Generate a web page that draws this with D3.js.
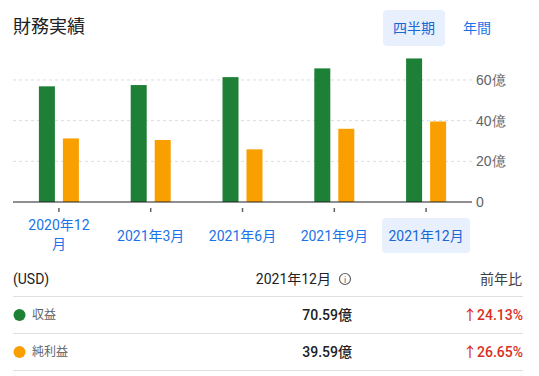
<!DOCTYPE html>
<html>
<head>
<meta charset="utf-8">
<script src="https://cdn.jsdelivr.net/npm/d3@7"></script>
<style>
  body { margin: 0; background: #fff; }
  svg { font-family: Roboto, "Noto Sans CJK JP", sans-serif; display: block; }
</style>
</head>
<body>
<svg id="chart" width="539" height="376"></svg>
<script>
// data
const categories = ["2020年12月", "2021年3月", "2021年6月", "2021年9月", "2021年12月"];
const labelLines = [["2020年12", "月"], ["2021年3月"], ["2021年6月"], ["2021年9月"], ["2021年12月"]];
const seriesNames = ["収益", "純利益"];
const revenue = [56.88, 57.5, 61.4, 65.7, 70.59];
const netIncome = [31.26, 30.5, 25.9, 36.0, 39.59];
const yTicks = [0, 20, 40, 60];
const tableValues = ["70.59億", "39.59億"];
const tableChange = ["24.13%", "26.65%"];
const colors = ["#1e8037", "#f9a000"];

const svg = d3.select("#chart");

// header
svg.append("text").attr("x", 13).attr("y", 33).attr("font-size", 18).attr("fill", "#202124").text("財務実績");
svg.append("rect").attr("x", 383).attr("y", 10).attr("width", 62).attr("height", 36).attr("rx", 4).attr("fill", "#e8f0fe");
svg.append("text").attr("x", 414).attr("y", 33).attr("text-anchor", "middle").attr("font-size", 14).attr("fill", "#1967d2").text("四半期");
svg.append("text").attr("x", 477).attr("y", 33).attr("text-anchor", "middle").attr("font-size", 14).attr("fill", "#1a73e8").text("年間");

// scales
const x = d3.scaleBand().domain(categories).range([13, 472]);
const xs = d3.scaleBand().domain(seriesNames).range([-20, 20]).paddingInner(1/3);
const y = d3.scaleLinear().domain([0, 80]).range([202, 39.3]);

// grid
svg.append("g").selectAll("line").data(yTicks.filter(d => d > 0)).enter().append("line")
  .attr("x1", 13).attr("x2", 472).attr("y1", d => y(d)).attr("y2", d => y(d))
  .attr("stroke", "#dadce0").attr("stroke-dasharray", "3,3");

// y axis labels
const yAxis = svg.append("g").attr("transform", "translate(472,0)")
  .call(d3.axisRight(y).tickValues(yTicks).tickSize(0).tickPadding(4).tickFormat(d => d === 0 ? "0" : d + "億"));
yAxis.select(".domain").remove();
yAxis.selectAll("text").attr("font-size", 14).attr("fill", "#5f6368").attr("font-family", null);

// bars
const groups = svg.append("g").selectAll("g").data(categories).enter().append("g")
  .attr("transform", d => `translate(${x(d) + x.bandwidth() / 2},0)`);
groups.selectAll("rect").data((d, i) => [revenue[i], netIncome[i]]).enter().append("rect")
  .attr("x", (d, j) => xs(seriesNames[j]))
  .attr("width", xs.bandwidth())
  .attr("y", d => y(d))
  .attr("height", d => y(0) - y(d))
  .attr("fill", (d, j) => colors[j]);

// baseline
svg.append("line").attr("x1", 13).attr("x2", 472).attr("y1", y(0)).attr("y2", y(0)).attr("stroke", "#202124").attr("stroke-width", 1.2);

// x ticks and labels
const last = categories.length - 1;
svg.append("rect").attr("x", x(categories[last]) + x.bandwidth() / 2 - 44).attr("y", 218)
  .attr("width", 88).attr("height", 35).attr("rx", 4).attr("fill", "#e8f0fe");
const xg = svg.append("g").selectAll("g").data(categories).enter().append("g")
  .attr("transform", d => `translate(${x(d) + x.bandwidth() / 2},0)`);
xg.append("line").attr("y1", 208).attr("y2", 212).attr("stroke", "#5f6368").attr("stroke-width", 1.5);
xg.each(function(d, i) {
  const lines = labelLines[i];
  const t = d3.select(this).append("text").attr("text-anchor", "middle").attr("font-size", 14)
    .attr("fill", i === last ? "#1967d2" : "#1a73e8");
  const y0 = lines.length === 1 ? 241 : 230;
  lines.forEach((l, k) => t.append("tspan").attr("x", 0).attr("y", y0 + k * 19).text(l));
});

// table
svg.append("text").attr("x", 13).attr("y", 284).attr("font-size", 14).attr("fill", "#202124").text("(USD)");
svg.append("text").attr("x", 331).attr("y", 284).attr("text-anchor", "end").attr("font-size", 14).attr("fill", "#202124").text("2021年12月");
svg.append("circle").attr("cx", 345).attr("cy", 279).attr("r", 5.5).attr("fill", "none").attr("stroke", "#5f6368").attr("stroke-width", 1.2);
svg.append("text").attr("x", 345).attr("y", 283).attr("text-anchor", "middle").attr("font-size", 9).attr("fill", "#5f6368").text("i");
svg.append("text").attr("x", 522).attr("y", 284).attr("text-anchor", "end").attr("font-size", 14).attr("fill", "#3c4043").text("前年比");

const rowY = [315, 352];
svg.append("g").selectAll("line").data([296.5, 333.5, 370.5]).enter().append("line")
  .attr("x1", 13).attr("x2", 523).attr("y1", d => d).attr("y2", d => d).attr("stroke", "#e0e0e0");
const rows = svg.append("g").selectAll("g").data(seriesNames).enter().append("g")
  .attr("transform", (d, i) => `translate(0,${rowY[i]})`);
rows.append("circle").attr("cx", 19.5).attr("r", 6).attr("fill", (d, i) => colors[i]);
rows.append("text").attr("x", 32).attr("y", 4).attr("font-size", 12).attr("fill", "#5f6368").text(d => d);
rows.append("text").attr("x", 352).attr("y", 5).attr("text-anchor", "end").attr("font-size", 14).attr("font-weight", 500)
  .attr("fill", "#202124").text((d, i) => tableValues[i]);
rows.append("text").attr("x", 523).attr("y", 5).attr("text-anchor", "end").attr("font-size", 14).attr("font-weight", 500)
  .attr("fill", "#d93025").text((d, i) => "↑" + tableChange[i]);
</script>
</body>
</html>
